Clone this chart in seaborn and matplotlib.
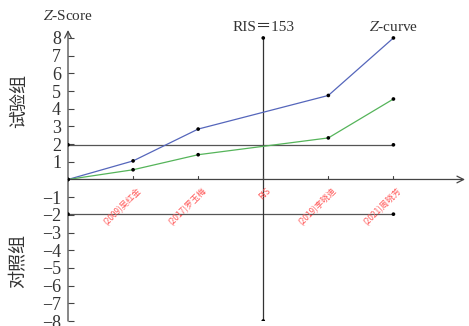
import matplotlib
matplotlib.use("Agg")
import matplotlib.pyplot as plt
import seaborn as sns
import pandas as pd

sns.set_theme(style="white")
plt.rcParams["font.family"] = ["Liberation Serif", "Noto Sans CJK SC"]
plt.rcParams["mathtext.fontset"] = "stix"

# Studies along the information axis (RIS sits in the middle slot)
studies = ["", "(2009)吴红金", "(2017)罗玉梅", "RIS", "(2019)李晓迪", "(2021)周晓芳"]
pos_blue = [0, 1, 2, 4, 5]
z_blue = [0, 1.05, 2.85, 4.75, 8.0]
pos_green = [0, 1, 2, 4, 5]
z_green = [0, 0.55, 1.4, 2.35, 4.55]
boundary = 1.96
ris_pos = 3
ris_value = 153
y_ticks = [-8, -7, -6, -5, -4, -3, -2, -1, 1, 2, 3, 4, 5, 6, 7, 8]

df = pd.concat([
    pd.DataFrame({"x": pos_blue, "z": z_blue, "curve": "blue"}),
    pd.DataFrame({"x": pos_green, "z": z_green, "curve": "green"}),
])

fig = plt.figure(figsize=(4.69, 3.26), dpi=100)
ax = fig.add_axes([0.145, 0.0153, 0.8465, 0.8954])

sns.lineplot(data=df, x="x", y="z", hue="curve",
             palette={"blue": "#5566bb", "green": "#55b45a"},
             linewidth=0.9, legend=False, ax=ax, zorder=3)
sns.scatterplot(data=df, x="x", y="z", color="black", s=7,
                edgecolor="none", legend=False, ax=ax, zorder=4)

# Significance boundaries +/-1.96
for b in (boundary, -boundary):
    ax.plot([0, len(studies) - 1], [b, b], color="#555555", lw=0.9, zorder=2)
    ax.scatter([0, len(studies) - 1], [b, b], color="black", s=7,
               edgecolors="none", zorder=4)

# RIS vertical line
ax.plot([ris_pos, ris_pos], [-8, 8], color="#333333", lw=0.9, zorder=2)
ax.scatter([ris_pos, ris_pos], [-8, 8], color="black", s=7, edgecolors="none", zorder=4)
ax.text(ris_pos, 8.25, f"RIS＝{ris_value}", ha="center", va="bottom", fontsize=11,
        color="#333333")
ax.text(len(studies) - 1, 8.25, r"$Z$-curve", ha="center", va="bottom", fontsize=11,
        color="#333333")

ax.set_xlim(0, 6.1)
ax.set_ylim(-8, 8.5)
for s in ax.spines.values():
    s.set_visible(False)

# Axes drawn as arrows through the origin
ax.annotate("", xy=(6.1, 0), xytext=(0, 0),
            arrowprops=dict(arrowstyle="->", color="#444444", lw=0.9, shrinkA=0, shrinkB=0),
            annotation_clip=False)
ax.annotate("", xy=(0, 8.45), xytext=(0, -8),
            arrowprops=dict(arrowstyle="->", color="#444444", lw=0.9, shrinkA=0, shrinkB=0),
            annotation_clip=False)
ax.text(0, 8.85, r"$Z$-Score", ha="center", va="bottom", fontsize=11, color="#333333")

ax.set_yticks(y_ticks)
ax.set_yticklabels([f"−{abs(v)}" if v < 0 else str(v) for v in y_ticks],
                   fontsize=13, color="#333333", family="Liberation Serif")
ax.tick_params(axis="y", direction="in", length=4, width=0.8, color="#444444", pad=5,
               left=True)

ax.set_xticks([])
for i in range(1, len(studies)):
    ax.plot([i, i], [0, 0.22], color="#444444", lw=0.8)
    ax.text(i + 0.05, -0.35, studies[i], rotation=45, rotation_mode="anchor",
            ha="right", va="top", fontsize=6, color="#ff5a5a",
            family=["Noto Sans CJK SC", "DejaVu Sans"])
ax.set_xlabel("")
ax.set_ylabel("")
ax.grid(False)

fig.text(0.04, 0.69, "试验组", rotation=90, ha="center", va="center", fontsize=13,
         color="#333333", family=["Noto Sans CJK SC"])
fig.text(0.04, 0.20, "对照组", rotation=90, ha="center", va="center", fontsize=13,
         color="#333333", family=["Noto Sans CJK SC"])

fig.savefig("out.png", dpi=100)
